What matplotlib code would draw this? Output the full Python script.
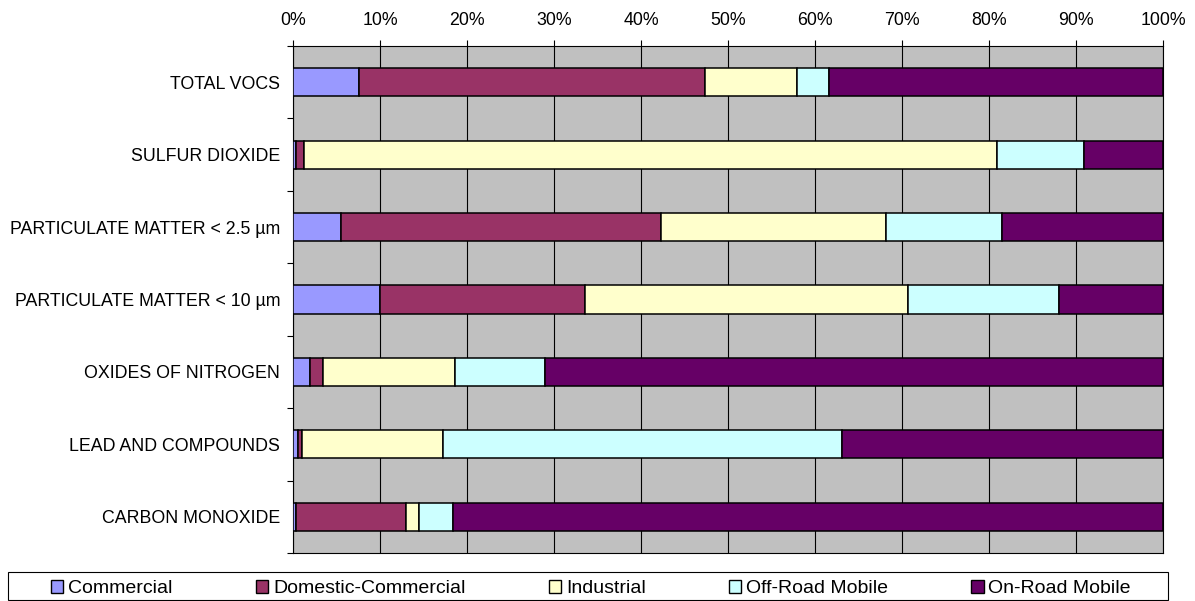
import matplotlib
matplotlib.use("Agg")
import matplotlib.pyplot as plt
from matplotlib.patches import Rectangle
import numpy as np

plt.rcParams['font.family'] = ['Liberation Sans', 'DejaVu Sans']

categories = ["TOTAL VOCS", "SULFUR DIOXIDE", "PARTICULATE MATTER < 2.5 µm",
              "PARTICULATE MATTER < 10 µm", "OXIDES OF NITROGEN",
              "LEAD AND COMPOUNDS", "CARBON MONOXIDE"]
series_names = ["Commercial", "Domestic-Commercial", "Industrial",
                "Off-Road Mobile", "On-Road Mobile"]
commercial = [7.6, 0.35, 5.5, 10.0, 1.9, 0.55, 0.3]
domestic = [39.7, 0.85, 36.8, 23.5, 1.55, 0.5, 12.65]
industrial = [10.6, 79.7, 25.8, 37.1, 15.15, 16.15, 1.55]
offroad = [3.7, 10.0, 13.4, 17.4, 10.3, 45.9, 3.85]
onroad = [38.4, 9.1, 18.5, 12.0, 71.1, 36.9, 81.65]
colors = ["#9999FF", "#993366", "#FFFFCC", "#CCFFFF", "#660066"]
x_ticks = [0, 10, 20, 30, 40, 50, 60, 70, 80, 90, 100]

W, H = 1195, 601
fig = plt.figure(figsize=(W / 100, H / 100), dpi=100)
ax = fig.add_axes([293.3 / W, 1 - 553 / H, (1163.3 - 293.3) / W, (553 - 46) / H])
ax.set_facecolor("#C0C0C0")

y = np.arange(len(categories))
left = np.zeros(len(categories))
handles = []
for name, vals, c in zip(series_names, [commercial, domestic, industrial, offroad, onroad], colors):
    vals = np.array(vals, dtype=float)
    b = ax.barh(y, vals, left=left, height=0.39, color=c, edgecolor="black",
                linewidth=1.1, label=name, zorder=3)
    handles.append(b)
    left = left + vals

ax.set_xlim(0, 100)
ax.set_ylim(len(categories) - 0.5, -0.5)
ax.xaxis.tick_top()
ax.set_xticks(x_ticks)
ax.set_xticklabels([f"{v}%" for v in x_ticks], fontsize=12.8)
ax.tick_params(axis='x', which='major', length=4.5, width=0.8, pad=8, color='black')
ax.grid(axis='x', color='black', linewidth=0.8, zorder=1)
ax.set_axisbelow(True)

ax.set_yticks(y)
ax.set_yticklabels(categories, fontsize=12.8)
ax.tick_params(axis='y', which='major', length=0, pad=9.5)
ax.set_yticks(np.arange(-0.5, len(categories), 1.0), minor=True)
ax.tick_params(axis='y', which='minor', length=4.5, width=0.8, color='black')

for s in ax.spines.values():
    s.set_color('black')
    s.set_linewidth(0.8)

# legend frame
fig.patches.append(Rectangle((8 / W, 1 - 599.5 / H), (1168 - 8) / W, (599.5 - 572) / H,
                             transform=fig.transFigure, facecolor='white',
                             edgecolor='black', linewidth=0.8))
leg = fig.legend(handles=handles, labels=series_names, loc='center',
                 bbox_to_anchor=(51 / W, 1 - 600 / H, (1131 - 51) / W, (600 - 577) / H),
                 mode='expand', ncol=5, frameon=False, fontsize=14,
                 handlelength=0.64, handleheight=0.64, handletextpad=0.25,
                 borderpad=0, borderaxespad=0)
for h in leg.legend_handles:
    h.set_linewidth(1.0)

fig.savefig("out.png", dpi=100)
